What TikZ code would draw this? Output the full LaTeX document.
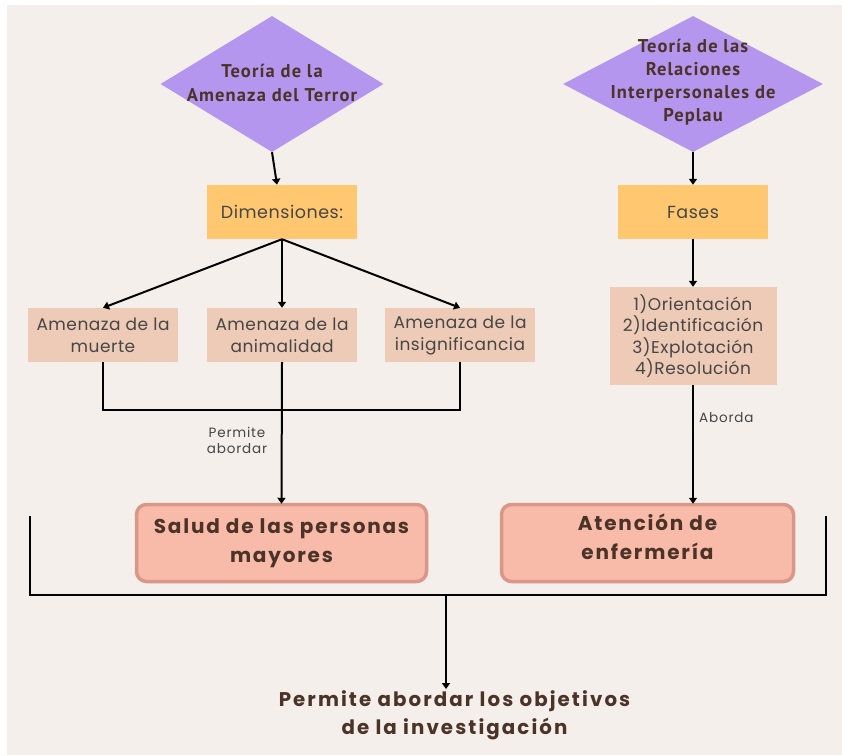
\documentclass[tikz,border=0pt]{standalone}
\usepackage{fontspec}
\usetikzlibrary{shapes.geometric,arrows.meta}
\newfontfamily\popa{Poppins}[LetterSpace=3]
\newfontfamily\popb{Poppins}[LetterSpace=6]
\newfontfamily\popc{Poppins}[LetterSpace=9]
\newfontfamily\popd{Poppins}[LetterSpace=10.5]
\newfontfamily\ptsf{PT Sans}[LetterSpace=6]
\definecolor{bgc}{HTML}{F4EFEB}
\definecolor{purp}{HTML}{B596EF}
\definecolor{oran}{HTML}{FFC870}
\definecolor{peach}{HTML}{EDCBB6}
\definecolor{salm}{HTML}{F9BBA9}
\definecolor{salmb}{HTML}{D9978A}
\definecolor{brown}{HTML}{4B3328}
\definecolor{greyt}{HTML}{464646}
\begin{document}
\begin{tikzpicture}[x=1pt,y=-1pt,
  dia/.style={diamond, fill=purp, inner sep=0pt, minimum width=#1},
  dtext/.style={align=center, text=brown, font=\ptsf\bfseries\fontsize{18.5}{24}\selectfont, inner sep=0pt},
  ybox/.style={fill=oran, minimum width=150pt, minimum height=54pt, inner sep=0pt, text=greyt, font=\popa\fontsize{17.5}{21}\selectfont},
  pbox/.style={fill=peach, minimum width=150pt, minimum height=54pt, inner sep=0pt, align=center, text=greyt, font=\popa\fontsize{17}{22}\selectfont},
  sbox/.style={fill=salm, draw=salmb, line width=3.5pt, rounded corners=10pt, minimum width=290pt, minimum height=77pt, inner sep=0pt},
  stext/.style={align=center, text=brown, inner sep=0pt, font=\popc\bfseries\fontsize{20}{29}\selectfont},
  lbl/.style={text=greyt, font=\popb\fontsize{13.5}{16}\selectfont, align=center, inner sep=0pt},
  ln/.style={line width=2pt, black},
  arr/.style={ln, -{Triangle[width=8pt,length=6pt]}}
]
\useasboundingbox (0,0) rectangle (842,755);
\fill[bgc] (7,5) rectangle (842,755);

% diamonds
\node[dia=223pt, minimum height=136pt] (d1) at (272,84) {};
\node[dtext] (t1) at (272,82.5) {Teoría de la\\Amenaza del Terror};
\node[dia=260pt, minimum height=136pt] (d2) at (693,84) {};
\node[dtext, font=\ptsf\bfseries\fontsize{18.5}{23}\selectfont] (t2) at (693,82.5) {Teoría de las\\Relaciones\\Interpersonales de\\Peplau};

% orange boxes
\node[ybox] (dim) at (282,212) {Dimensiones:};
\node[ybox] (fas) at (693,212) {Fases};

% peach boxes
\node[pbox] (a1) at (103,335) {Amenaza de la\\muerte};
\node[pbox] (a2) at (282,335) {Amenaza de la\\animalidad};
\node[pbox] (a3) at (460,335) {Amenaza de la\\insignificancia};
\node[pbox, minimum width=167pt, minimum height=98pt, font=\popa\fontsize{17}{21.5}\selectfont] (ph) at (693,336) {1)Orientación\\2)Identificación\\3)Explotación\\4)Resolución};

% salmon boxes
\node[sbox] (s) at (281.5,543) {};
\node[stext] (st) at (281.5,543) {Salud de las personas\\mayores};
\node[sbox, minimum width=292pt] (e) at (647.5,543) {};
\node[stext] (et) at (647.5,537) {Atención de\\enfermería};

% labels
\node[lbl] (l1) at (237,440) {Permite\\abordar};
\node[lbl, anchor=west] (l2) at (699,418) {Aborda};

% final text
\node[align=center, text=brown, inner sep=0pt, font=\popd\bfseries\fontsize{19.8}{28}\selectfont] (fin) at (454.5,715) {Permite abordar los objetivos\\de la investigación};

% connectors
\draw[arr] (d1.south) -- ([xshift=-5pt]dim.north);
\draw[arr] (d2.south) -- (fas.north);
\draw[arr] (dim.south) -- (a1.north);
\draw[arr] (dim.south) -- (a2.north);
\draw[arr] (dim.south) -- (a3.north);
\draw[arr] (fas.south) -- (ph.north);

\coordinate (j) at (282,410);
\draw[ln] (a1.south) -- (a1.south |- j) -- (a3.south |- j) -- (a3.south);
\draw[arr] (a2.south) -- ([yshift=-1pt]s.north);
\draw[arr] (ph.south) -- ([yshift=-1pt]ph.south |- e.north);

\coordinate (bl) at (30,516);
\coordinate (blb) at (30,595);
\coordinate (br) at (826,516);
\coordinate (brb) at (826,595);
\coordinate (m) at (446,595);
\coordinate (mt) at (446,689);
\draw[ln] (bl) -- (blb) -- (brb) -- (br);
\draw[arr] (m) -- (mt);
\end{tikzpicture}
\end{document}
